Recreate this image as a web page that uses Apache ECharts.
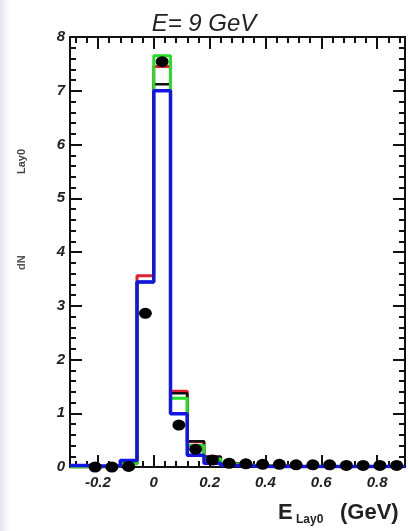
<!DOCTYPE html>
<html><head><meta charset="utf-8">
<script src="https://cdn.jsdelivr.net/npm/echarts@6/dist/echarts.min.js"></script>
<style>html,body{margin:0;padding:0;background:#fff}#c{width:408px;height:531px}</style>
</head><body><div id="c"></div>
<script>
// ---- data ----
const binCenters = [-0.27,-0.21,-0.15,-0.09,-0.03,0.03,0.09,0.15,0.21,0.27,0.33,0.39,0.45,0.51,0.57,0.63,0.69,0.75,0.81,0.87];
const binWidth = 0.06;
const histGreen = [0.00,0.00,0.01,0.06,3.44,7.65,1.28,0.40,0.15,0.05,0.03,0.02,0.01,0.01,0.01,0.01,0.01,0.01,0.01,0.01];
const histRed   = [0.00,0.00,0.01,0.06,3.56,7.45,1.41,0.47,0.19,0.06,0.03,0.02,0.02,0.01,0.01,0.01,0.01,0.01,0.01,0.01];
const histBlack = [0.00,0.00,0.01,0.06,3.44,7.12,1.37,0.48,0.19,0.06,0.03,0.02,0.02,0.01,0.01,0.01,0.01,0.01,0.01,0.01];
const histBlue  = [0.03,0.02,0.02,0.12,3.44,7.00,0.99,0.22,0.07,0.03,0.02,0.01,0.01,0.01,0.01,0.01,0.01,0.01,0.01,0.01];
const dataPts   = [null,0.00,0.00,0.01,2.86,7.54,0.78,0.33,0.13,0.07,0.06,0.05,0.05,0.04,0.04,0.04,0.03,0.03,0.03,0.03];
const xMajorTicks = [-0.2,0,0.2,0.4,0.6,0.8];
const xMinorStep = 0.04;
const yMajorTicks = [0,1,2,3,4,5,6,7,8];
const yMinorStep = 0.2;
const xRange = [-0.3, 0.9];
const yRange = [0, 8];
const titleText = 'E= 9 GeV';

// ---- helpers ----
function stepData(vals){
  const out=[];
  binCenters.forEach((c,i)=>{ out.push([c-binWidth/2, vals[i]]); out.push([c+binWidth/2, vals[i]]); });
  return out;
}
function minors(range, step, majors){
  const out=[];
  const start=Math.ceil((range[0]-1e-9)/step);
  for(let k=start; k*step<=range[1]+1e-9; k++){
    const v=+(k*step).toFixed(4);
    if(!majors.some(m=>Math.abs(m-v)<1e-6)) out.push(v);
  }
  return out;
}
function xMinors(){
  const out=[];
  for(let v=xMajorTicks[0]; v<=xRange[1]+1e-9; v+=xMinorStep){ out.push(+v.toFixed(4)); }
  for(let v=xMajorTicks[0]-xMinorStep; v>=xRange[0]-1e-9; v-=xMinorStep){ out.push(+v.toFixed(4)); }
  return out.filter(v=>!xMajorTicks.some(m=>Math.abs(m-v)<1e-6));
}
const xMin = xMinors();
const yMin = minors(yRange, yMinorStep, yMajorTicks);

const axColor = '#111';
const FF = 'Liberation Sans, Arial, sans-serif';
const labFont = {fontFamily:FF, fontStyle:'italic', fontWeight:'bold', fontSize:15, color:'#222'};
function xAx(pos, major, withLabel, withLine){
  return {type:'value', min:xRange[0], max:xRange[1], position:pos,
    axisLine:{show:withLine, onZero:false, lineStyle:{color:axColor,width:2}},
    splitLine:{show:false},
    axisTick:{show:true, inside:true, length: major?12:6, customValues: major?xMajorTicks:xMin, lineStyle:{color:axColor,width:2}},
    axisLabel:withLabel?Object.assign({show:true, margin:8, customValues:xMajorTicks,
      formatter:v=>(Math.abs(v)<1e-9?'0':String(+(+v).toFixed(1)))}, labFont):{show:false}
  };
}
function yAx(pos, major, withLabel, withLine){
  return {type:'value', min:yRange[0], max:yRange[1], position:pos,
    axisLine:{show:withLine, onZero:false, lineStyle:{color:axColor,width:2}},
    splitLine:{show:false},
    axisTick:{show:true, inside:true, length: major?12:6, customValues: major?yMajorTicks:yMin, lineStyle:{color:axColor,width:2}},
    axisLabel:withLabel?Object.assign({show:true, margin:5, customValues:yMajorTicks}, labFont):{show:false}
  };
}

const chart = echarts.init(document.getElementById('c'), null, {renderer:'canvas'});
const histStyle=(color,w)=>({type:'line', xAxisIndex:0, yAxisIndex:0, showSymbol:false, symbol:'none', silent:true,
  lineStyle:{color:color,width:w}, clip:true});
chart.setOption({
  animation:false,
  backgroundColor:'#ffffff',
  grid:{left:70, right:3, top:37, bottom:64, containLabel:false},
  xAxis:[xAx('bottom',true,true,true), xAx('bottom',false,false,false), xAx('top',true,false,true), xAx('top',false,false,false)],
  yAxis:[yAx('left',true,true,true), yAx('left',false,false,false), yAx('right',true,false,true), yAx('right',false,false,false)],
  graphic:[
    {type:'rect', left:0, top:0, shape:{width:10,height:531}, style:{fill:new echarts.graphic.LinearGradient(0,0,1,0,[{offset:0,color:'#e4e4f6'},{offset:1,color:'#ffffff'}])}, z:-10},
    {type:'text', left:'center', top:12, style:{text:titleText, fontFamily:FF, fontStyle:'italic', fontSize:24, fill:'#222'}, z:20},
    {type:'text', x:278, y:502, style:{text:'E', fontFamily:FF, fontWeight:'bold', fontSize:22, fill:'#222'}},
    {type:'text', x:296, y:514, style:{text:'Lay0', fontFamily:FF, fontWeight:'bold', fontSize:12, fill:'#222'}},
    {type:'text', x:340, y:502, style:{text:'(GeV)', fontFamily:FF, fontWeight:'bold', fontSize:22, fill:'#222'}},
    {type:'text', x:16, y:174, rotation:Math.PI/2, style:{text:'Lay0', fontFamily:FF, fontWeight:'bold', fontSize:11, fill:'#444'}},
    {type:'text', x:16, y:270, rotation:Math.PI/2, style:{text:'dN', fontFamily:FF, fontWeight:'bold', fontSize:11, fill:'#555'}}
  ],
  series:[
    Object.assign(histStyle('#e0202c',3), {data:stepData(histRed), z:2}),
    Object.assign(histStyle('#111111',2.5), {data:stepData(histBlack), z:3}),
    Object.assign(histStyle('#22e022',3), {data:stepData(histGreen), z:4}),
    Object.assign(histStyle('#1414e6',3.5), {data:stepData(histBlue), z:5}),
    {type:'scatter', xAxisIndex:0, yAxisIndex:0, symbol:'circle', symbolSize:[13,11], z:6, silent:true,
      itemStyle:{color:'#000', opacity:1},
      data: binCenters.map((c,i)=>dataPts[i]===null?null:[c,dataPts[i]]).filter(d=>d)}
  ]
});
</script></body></html>
